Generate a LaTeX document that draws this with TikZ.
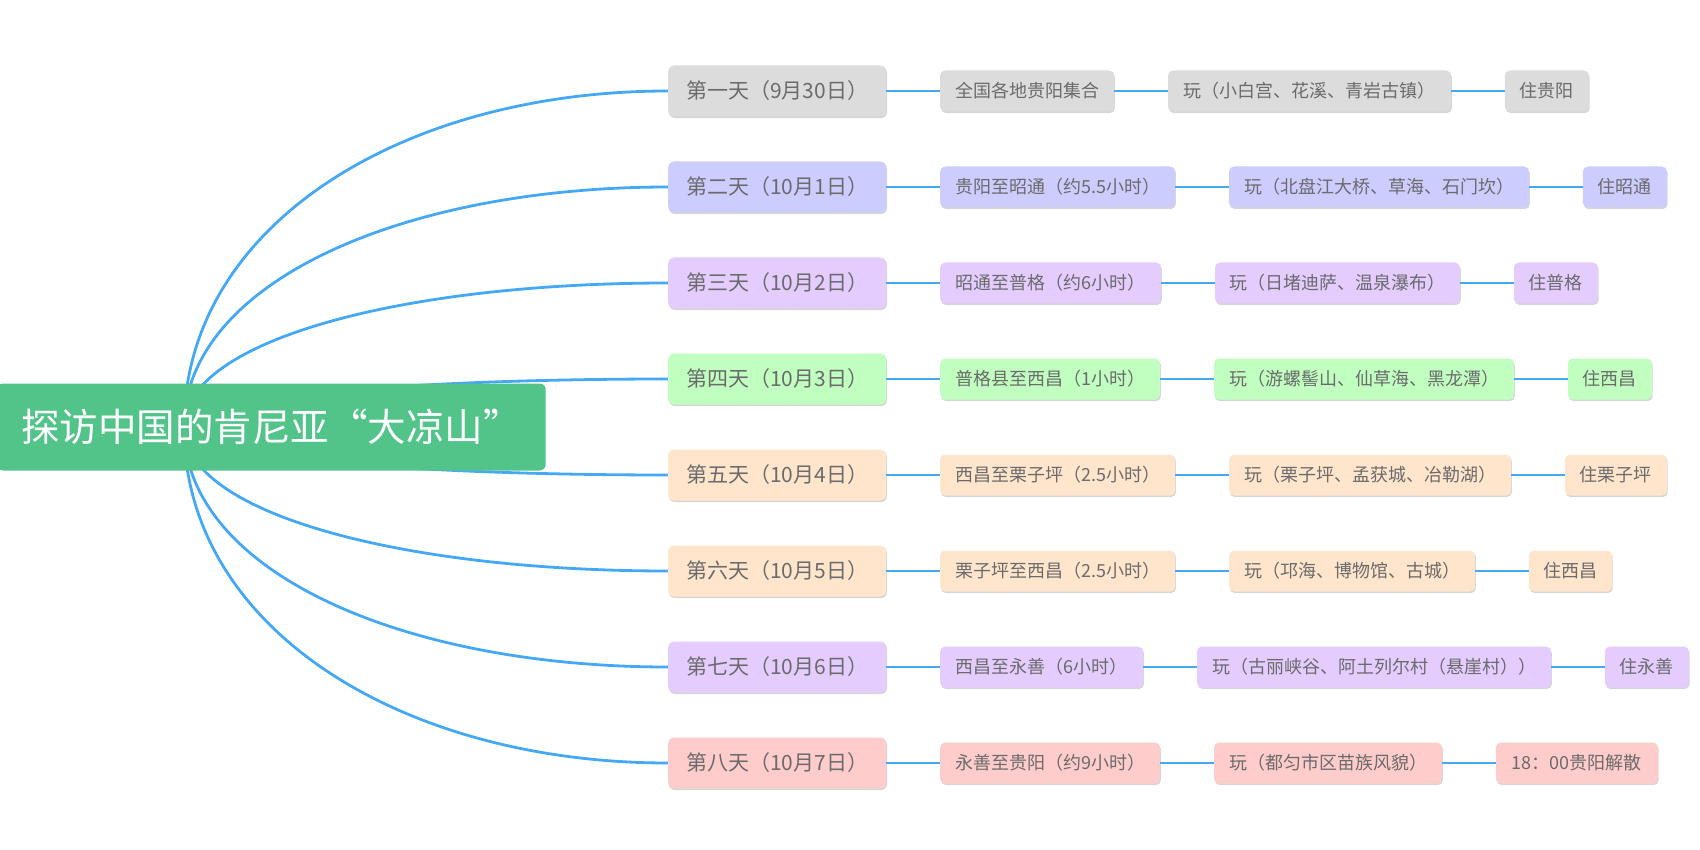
\documentclass[tikz,border=0pt]{standalone}
\usepackage{fontspec}
\setmainfont{Noto Sans CJK SC}
\usetikzlibrary{positioning,calc,backgrounds,shadows}
\definecolor{mapgreen}{HTML}{52C48A}
\definecolor{mapblue}{HTML}{45A8F5}
\definecolor{mapink}{HTML}{6B6B6B}
\definecolor{dgrey}{HTML}{DCDCDC}
\definecolor{dlilac}{HTML}{CCCCFF}
\definecolor{dviolet}{HTML}{E4CCFF}
\definecolor{dmint}{HTML}{C1FFC1}
\definecolor{dpeach}{HTML}{FFE5CC}
\definecolor{drose}{HTML}{FFCCCC}
\tikzset{
  % boxes
  boxshadow/.style={drop shadow={shadow xshift=0.8pt,shadow yshift=-1.6pt,
             opacity=0.16,fill=black}},
  rootbox/.style={fill=mapgreen,text=white,rounded corners=6pt,inner xsep=24pt,
             inner ysep=0pt,minimum height=87pt,font=\fontsize{38.5}{42}\selectfont},
  daybox/.style={boxshadow,rounded corners=6pt,inner sep=0pt,minimum width=218pt,
             minimum height=51pt,text=mapink,font=\fontsize{21}{24}\selectfont},
  leaf/.style={boxshadow,rounded corners=5pt,inner sep=0pt,minimum width=#1,
             minimum height=41pt,text=mapink,font=\fontsize{18}{21}\selectfont},
  rgrey/.style={fill=dgrey},
  rlilac/.style={fill=dlilac},
  rviolet/.style={fill=dviolet},
  rmint/.style={fill=dmint},
  rpeach/.style={fill=dpeach},
  rrose/.style={fill=drose},
  % lines
  branch/.style={draw=mapblue,line width=2.8pt},
  link/.style={draw=mapblue,line width=1.4pt},
}
\begin{document}
\begin{tikzpicture}[x=1pt,y=-1pt,node distance=53.5pt]
  \useasboundingbox (0,0) rectangle (1700,850);
  \coordinate (o) at (184,427);
  \node[rootbox,anchor=west] (root) at (-3,427) {探访中国的肯尼亚“大凉山”};
  % tag 1
  \node[daybox,rgrey,anchor=west] (d1) at (668,91) {第一天（9月30日）};
  \node[leaf=174pt,rgrey,right=of d1] (t1) {全国各地贵阳集合};
  \node[leaf=283pt,rgrey,right=of t1] (w1) {玩（小白宫、花溪、青岩古镇）};
  \node[leaf=84pt,rgrey,right=of w1] (z1) {住贵阳};
  % tag 2
  \node[daybox,rlilac,anchor=west] (d2) at (668,187) {第二天（10月1日）};
  \node[leaf=235pt,rlilac,right=of d2] (t2) {贵阳至昭通（约5.5小时）};
  \node[leaf=300pt,rlilac,right=of t2] (w2) {玩（北盘江大桥、草海、石门坎）};
  \node[leaf=84pt,rlilac,right=of w2] (z2) {住昭通};
  % tag 3
  \node[daybox,rviolet,anchor=west] (d3) at (668,283) {第三天（10月2日）};
  \node[leaf=221pt,rviolet,right=of d3] (t3) {昭通至普格（约6小时）};
  \node[leaf=245pt,rviolet,right=of t3] (w3) {玩（日堵迪萨、温泉瀑布）};
  \node[leaf=84pt,rviolet,right=of w3] (z3) {住普格};
  % tag 4
  \node[daybox,rmint,anchor=west] (d4) at (668,379) {第四天（10月3日）};
  \node[leaf=220pt,rmint,right=of d4] (t4) {普格县至西昌（1小时）};
  \node[leaf=300pt,rmint,right=of t4] (w4) {玩（游螺髻山、仙草海、黑龙潭）};
  \node[leaf=84pt,rmint,right=of w4] (z4) {住西昌};
  % tag 5
  \node[daybox,rpeach,anchor=west] (d5) at (668,475) {第五天（10月4日）};
  \node[leaf=235pt,rpeach,right=of d5] (t5) {西昌至栗子坪（2.5小时）};
  \node[leaf=282pt,rpeach,right=of t5] (w5) {玩（栗子坪、孟获城、冶勒湖）};
  \node[leaf=102pt,rpeach,right=of w5] (z5) {住栗子坪};
  % tag 6
  \node[daybox,rpeach,anchor=west] (d6) at (668,571) {第六天（10月5日）};
  \node[leaf=235pt,rpeach,right=of d6] (t6) {栗子坪至西昌（2.5小时）};
  \node[leaf=246pt,rpeach,right=of t6] (w6) {玩（邛海、博物馆、古城）};
  \node[leaf=83pt,rpeach,right=of w6] (z6) {住西昌};
  % tag 7
  \node[daybox,rviolet,anchor=west] (d7) at (668,667) {第七天（10月6日）};
  \node[leaf=203pt,rviolet,right=of d7] (t7) {西昌至永善（6小时）};
  \node[leaf=354pt,rviolet,right=of t7] (w7) {玩（古丽峡谷、阿土列尔村（悬崖村））};
  \node[leaf=84pt,rviolet,right=of w7] (z7) {住永善};
  % tag 8
  \node[daybox,rrose,anchor=west] (d8) at (668,763) {第八天（10月7日）};
  \node[leaf=220pt,rrose,right=of d8] (t8) {永善至贵阳（约9小时）};
  \node[leaf=228pt,rrose,right=of t8] (w8) {玩（都匀市区苗族风貌）};
  \node[leaf=162pt,rrose,right=of w8] (z8) {18：00贵阳解散};
  \begin{scope}[on background layer]
  \foreach \i in {1,...,8}
    \draw[branch] (o) .. controls ($(o)!0.6!(o |- d\i.west)$)
      and ($(d\i.west)!0.55!(o |- d\i.west)$) .. (d\i.west);
  \end{scope}
  \foreach \i in {1,...,8}
    \draw[link] (d\i) -- (t\i) (t\i) -- (w\i) (w\i) -- (z\i);
\end{tikzpicture}
\end{document}
